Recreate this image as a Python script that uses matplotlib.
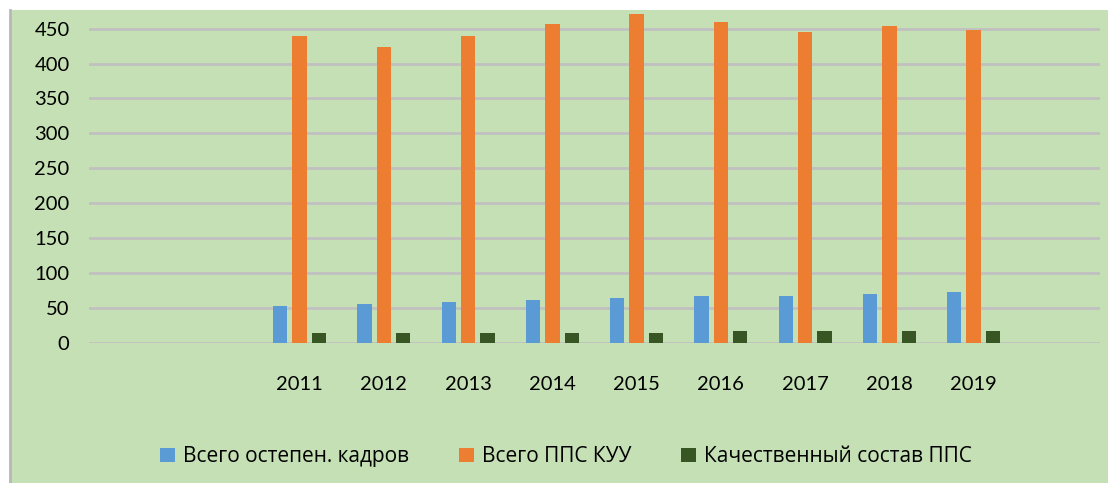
import numpy as np
import matplotlib.pyplot as plt
from matplotlib.patches import Rectangle
from matplotlib.lines import Line2D

plt.rcParams['font.family'] = ['Lato', 'DejaVu Sans']

# data
years = ['', '', '2011', '2012', '2013', '2014', '2015', '2016', '2017', '2018', '2019', '']
degree_staff = [0, 0, 53, 55, 58, 61, 64, 67, 67, 70, 73, 0]
pps_total = [0, 0, 439, 424, 439, 457, 471, 459, 445, 454, 448, 0]
pps_quality = [0, 0, 14, 14, 14, 14, 14, 17, 17, 17, 17, 0]
labels = ['Всего остепен. кадров', 'Всего ППС КУУ', 'Качественный состав ППС']
colors = ['#5B9BD5', '#ED7D31', '#375623']

fig = plt.figure(figsize=(11.08, 4.83), dpi=100)
fig.patch.set_facecolor('white')
# green chart area with grey left edge
fig.patches.append(Rectangle((10 / 1108, 0), 1, (483 - 10) / 483, transform=fig.transFigure,
                             facecolor='#C5E0B4', edgecolor='none', zorder=-2))
fig.lines.append(Line2D([10 / 1108, 10 / 1108], [0, (483 - 10) / 483], transform=fig.transFigure,
                        color='#B8B8B8', lw=2, zorder=-1))

ax = fig.add_axes([89 / 1108, 0.2905, (1100 - 89) / 1108, 0.6863])
ax.patch.set_alpha(0)

x = np.arange(len(years))
w = 0.17
step = 0.23
ax.bar(x - step, degree_staff, w, color=colors[0], label=labels[0], zorder=3)
ax.bar(x, pps_total, w, color=colors[1], label=labels[1], zorder=3)
ax.bar(x + step, pps_quality, w, color=colors[2], label=labels[2], zorder=3)

ax.set_xlim(-0.5, len(years) - 0.5)
ax.set_ylim(0, 475)
ax.set_yticks(range(0, 451, 50))
ax.set_xticks(x)
ax.set_xticklabels(years)
ax.yaxis.grid(True, color='#C0C0C0', lw=2)
ax.set_axisbelow(True)
for s in ax.spines.values():
    s.set_visible(False)
ax.tick_params(axis='both', length=0, labelsize=14.5, colors='black')
ax.tick_params(axis='y', pad=14)
ax.tick_params(axis='x', pad=24)

fig.legend(loc='center', bbox_to_anchor=(0.511, 0.054), ncol=3, frameon=False,
           prop={'family': ['Open Sans', 'DejaVu Sans'], 'size': 15},
           handlelength=0.7, handleheight=0.7, handletextpad=0.4, columnspacing=2.4)

plt.savefig('out.png', dpi=100)
